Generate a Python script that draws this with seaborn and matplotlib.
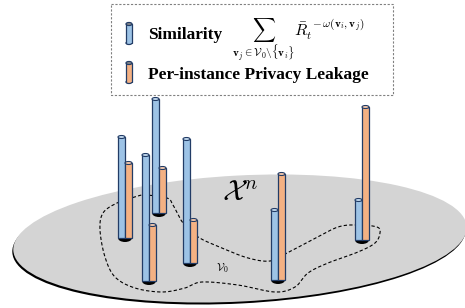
import numpy as np
import matplotlib
matplotlib.use("Agg")
import matplotlib.pyplot as plt
from matplotlib.patches import Ellipse, Rectangle
import seaborn as sns

sns.set_theme(style="white")
plt.rcParams["font.family"] = ["Liberation Serif", "DejaVu Serif"]
plt.rcParams["mathtext.fontset"] = "cm"
plt.rcParams["text.color"] = "black"

# instance values (bar lengths in pixels)
similarity = [101, 126, 114, 124, 70, 40]
leakage = [75, 56, 45, 43, 106, 133]
# where each instance sits on the plane
inst_x = [125, 149, 159, 190, 278, 362]
inst_base = [238, 281, 213, 263, 280, 240]

# outline of the V_0 region
region = [(117, 203), (135, 197), (145, 195), (167, 198), (173, 205), (183, 223),
          (198, 237), (222, 248), (248, 258), (270, 261), (287, 253), (312, 240),
          (338, 227), (358, 225), (377, 227), (380, 233), (375, 243), (358, 252),
          (328, 263), (308, 273), (295, 287), (275, 292), (238, 285), (202, 282),
          (185, 288), (162, 292), (135, 288), (115, 277), (105, 257), (100, 230),
          (103, 213)]

BLUE, BLUE_CAP = "#9dc3e6", "#c5dcf0"
ORANGE, ORANGE_CAP = "#f4b183", "#f8cbad"
EDGE = "#223c66"
W = 7

fig = plt.figure(figsize=(4.65, 3.08), dpi=100)
ax = fig.add_axes([0, 0, 1, 1])
ax.set_xlim(0, 465)
ax.set_ylim(308, 0)
ax.axis("off")

# the plane X^n
ax.add_patch(Ellipse((239, 240.5), 454, 126, angle=-3, fc="black", ec="none", zorder=1))
ax.add_patch(Ellipse((240, 238.5), 454, 126, angle=-3, fc="#d4d4d4", ec="none", zorder=2))


def smooth_closed(pts, n=12):
    p = np.array(pts, dtype=float)
    out = []
    k = len(p)
    for i in range(k):
        p0, p1, p2, p3 = p[i - 1], p[i], p[(i + 1) % k], p[(i + 2) % k]
        for t in np.linspace(0, 1, n, endpoint=False):
            t2, t3 = t * t, t * t * t
            out.append(0.5 * ((2 * p1) + (-p0 + p2) * t + (2 * p0 - 5 * p1 + 4 * p2 - p3) * t2
                              + (-p0 + 3 * p1 - 3 * p2 + p3) * t3))
    out.append(out[0])
    return np.array(out)


curve = smooth_closed(region)
ax.plot(curve[:, 0], curve[:, 1], color="black", lw=0.8, ls=(0, (3, 2)), zorder=3)

ax.text(240, 194, r"$\mathcal{X}^n$", fontsize=21, ha="center", va="center", zorder=3)
ax.text(222, 268, r"$\mathcal{V}_0$", fontsize=8, ha="center", va="center", zorder=3)

# cylinders, far ones first
order = np.argsort(inst_base)
for rank, i in enumerate(order):
    z = 10 + rank * 3
    x, b = inst_x[i], inst_base[i]
    ax.add_patch(Ellipse((x, b), 2 * W, 8, fc="black", ec="none", zorder=z))
    ax.bar([x - W / 2], [-similarity[i]], bottom=b, width=W, color=BLUE,
           edgecolor=EDGE, linewidth=0.9, zorder=z + 1)
    ax.bar([x + W / 2], [-leakage[i]], bottom=b, width=W, color=ORANGE,
           edgecolor=EDGE, linewidth=0.9, zorder=z + 1)
    ax.add_patch(Ellipse((x - W / 2, b - similarity[i]), W, 3, fc=BLUE_CAP, ec=EDGE,
                         lw=0.8, zorder=z + 2))
    ax.add_patch(Ellipse((x + W / 2, b - leakage[i]), W, 3, fc=ORANGE_CAP, ec=EDGE,
                         lw=0.8, zorder=z + 2))

# legend box
ax.add_patch(Rectangle((111, 4), 282, 91, fc="white", ec="#808080", lw=0.8,
                       ls=(0, (2, 1.5)), zorder=40))
for (y0, y1), fc, cap in [((24, 43), BLUE, BLUE_CAP), ((63, 82), ORANGE, ORANGE_CAP)]:
    ax.add_patch(Ellipse((129, y1), 6, 3, fc=fc, ec=EDGE, lw=0.9, zorder=41))
    ax.add_patch(Rectangle((126, y0), 6, y1 - y0, fc=fc, ec="none", zorder=42))
    ax.plot([126, 126], [y0, y1], color=EDGE, lw=0.9, zorder=43)
    ax.plot([132, 132], [y0, y1], color=EDGE, lw=0.9, zorder=43)
    ax.add_patch(Ellipse((129, y0), 6, 3, fc="#8a8a8a", ec=EDGE, lw=0.9, zorder=44))

ax.text(148, 35, "Similarity", fontsize=12.5, fontweight="bold", ha="left", va="center",
        zorder=45)
ax.text(232, 40,
        r"$\sum_{\mathbf{v}_j\in\mathcal{V}_0\backslash\{\mathbf{v}_i\}}"
        r"\bar{R}_t^{\ -\omega(\mathbf{v}_i,\mathbf{v}_j)}$",
        fontsize=11.5, ha="left", va="center", zorder=45)
ax.text(148, 75, "Per-instance Privacy Leakage", fontsize=12.5, fontweight="bold",
        ha="left", va="center", zorder=45)

fig.savefig("out.png", dpi=100)
